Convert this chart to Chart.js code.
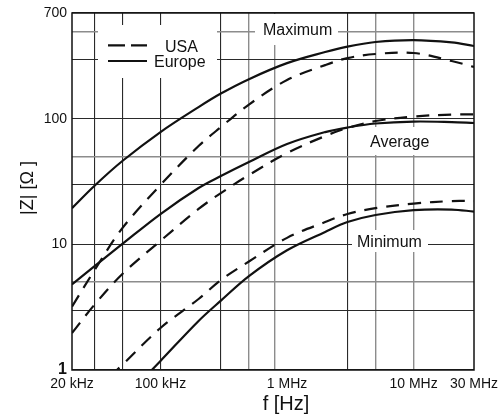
<!DOCTYPE html>
<html lang="en">
<head>
    <meta charset="UTF-8">
    <title>|Z| vs f</title>
    <script src="https://cdn.jsdelivr.net/npm/chart.js"></script>
    <style>
        body { margin: 0; background: #fff; }
        #wrap { width: 499px; height: 419px; }
    </style>
</head>
<body>
<div id="wrap"><canvas id="zChart"></canvas></div>
<script>
    // frequencies (Hz) the curves are read at
    const freqs = [2e4, 3e4, 5e4, 1e5, 2e5, 3e5, 5e5, 1e6, 2e6, 3e6, 5e6, 1e7, 2e7, 3e7];

    // impedance |Z| in ohm
    const europeMax = [19.5, 29.3, 46.3, 78.8, 124.6, 159.7, 208, 279, 342, 378, 411, 426, 408, 382];
    const usaMax = [3.2, 6.2, 13.5, 29.8, 60.9, 86.3, 130.5, 204.6, 269, 306, 330, 336, 290, 260];
    const europeAvg = [4.8, 6.7, 10.1, 17.5, 28.2, 35.1, 45.4, 63.2, 78.7, 85.6, 92.1, 95.5, 94.6, 93];
    const usaAvg = [1.97, 3.3, 5.82, 10.7, 19.2, 25.7, 35.8, 53.6, 73.2, 84.8, 96.4, 104.7, 108.6, 109];
    const europeMin = [null, null, 0.57, 1.18, 2.46, 3.57, 5.6, 9.0, 12.6, 15.1, 17.2, 18.8, 19, 18.3];
    const usaMin = [null, 0.67, 1.1, 2.16, 3.68, 5.21, 7.32, 11.3, 15.1, 17.5, 19.5, 21.2, 22.2, 22.2];

    // axis ticks
    const xTicks = [2e4, 3e4, 5e4, 1e5, 3e5, 5e5, 8e5, 1e6, 3e6, 5e6, 1e7, 3e7];
    const xTickLabels = ['20 kHz', '', '', '100 kHz', '', '', '', '1 MHz', '', '', '10 MHz', '30 MHz'];
    const yTicks = [1, 3, 5, 10, 30, 50, 100, 300, 500, 700];
    const yTickLabels = ['1', '', '', '10', '', '', '100', '', '', '700'];

    const DARK = '#2a2a2a', LIGHT = '#8c8c8c';
    const lightX = [5e5, 8e5, 5e6, 1e7];
    const noGridX = [2e4, 1e6, 3e7];
    const lightY = [5, 50, 500];
    const FONT = '"Liberation Sans", Arial, sans-serif';

    function pts(vals) {
        return freqs.map((f, i) => ({ x: f, y: vals[i] }));
    }

    function line(label, vals, dashed) {
        return {
            label: label,
            data: pts(vals),
            borderColor: '#111',
            borderWidth: 2.2,
            borderDash: dashed ? [13, 9] : [],
            pointRadius: 0,
            fill: false,
            tension: 0.35
        };
    }

    // white label boxes, legend, frame and axis titles
    const overlay = {
        id: 'overlay',
        beforeDatasetsDraw(chart) {
            const c = chart.ctx;
            c.save();
            c.fillStyle = '#fff';
            c.fillRect(98, 25, 119, 53);    // legend
            c.fillRect(255, 14, 83, 31);    // Maximum
            c.fillRect(365, 127, 75, 28);   // Average
            c.fillRect(352, 230, 76, 22);   // Minimum

            c.fillStyle = '#111';
            c.font = '16px ' + FONT;
            c.textBaseline = 'alphabetic';
            c.fillText('Maximum', 263, 34.5);
            c.fillText('Average', 370, 146.5);
            c.fillText('Minimum', 357, 246.5);
            c.fillText('USA', 165, 52.3);
            c.fillText('Europe', 154, 66.5);

            c.strokeStyle = '#111';
            c.lineWidth = 2.2;
            c.setLineDash([17, 6]);
            c.beginPath(); c.moveTo(108, 45.3); c.lineTo(147, 45.3); c.stroke();
            c.setLineDash([]);
            c.beginPath(); c.moveTo(108, 61); c.lineTo(147, 61); c.stroke();
            c.restore();
        },
        afterDraw(chart) {
            const c = chart.ctx, a = chart.chartArea;
            c.save();
            c.strokeStyle = '#111';
            c.lineWidth = 1.5;
            c.strokeRect(a.left, a.top, a.right - a.left, a.bottom - a.top);

            c.fillStyle = '#111';
            c.textAlign = 'center';
            c.textBaseline = 'middle';
            c.font = '20px ' + FONT;
            c.fillText('f [Hz]', 286, 404);
            c.translate(28, 188);
            c.rotate(-Math.PI / 2);
            c.font = '18px ' + FONT;
            c.fillText('|Z| [\u03A9 ]', 0, 0);
            c.restore();
        }
    };

    new Chart(document.getElementById('zChart'), {
        type: 'line',
        data: {
            datasets: [
                line('Europe Maximum', europeMax, false),
                line('USA Maximum', usaMax, true),
                line('Europe Average', europeAvg, false),
                line('USA Average', usaAvg, true),
                line('Europe Minimum', europeMin, false),
                line('USA Minimum', usaMin, true)
            ]
        },
        options: {
            responsive: true,
            maintainAspectRatio: false,
            animation: false,
            layout: { padding: { top: 13, right: 25, left: 0, bottom: 0 } },
            plugins: { legend: { display: false }, tooltip: { enabled: false } },
            scales: {
                x: {
                    type: 'logarithmic',
                    min: 2e4,
                    max: 3e7,
                    afterBuildTicks: s => { s.ticks = xTicks.map(v => ({ value: v })); },
                    afterFit: s => { s.height = 49; s.paddingLeft = 0; s.paddingRight = 0; },
                    border: { display: false },
                    grid: {
                        drawTicks: false,
                        color: ctx => {
                            const v = ctx.tick ? ctx.tick.value : 0;
                            if (noGridX.includes(v)) return 'rgba(0,0,0,0)';
                            return lightX.includes(v) ? LIGHT : DARK;
                        },
                        lineWidth: ctx => (ctx.tick && lightX.includes(ctx.tick.value)) ? 1.4 : 1.1
                    },
                    ticks: {
                        autoSkip: false,
                        maxRotation: 0,
                        padding: 6,
                        color: '#111',
                        font: { family: FONT, size: 14 },
                        callback: (val, i) => xTickLabels[i]
                    }
                },
                y: {
                    type: 'logarithmic',
                    min: 1,
                    max: 700,
                    afterBuildTicks: s => { s.ticks = yTicks.map(v => ({ value: v })); },
                    afterFit: s => { s.width = 72; s.paddingTop = 0; s.paddingBottom = 0; },
                    border: { display: false },
                    grid: {
                        drawTicks: false,
                        color: ctx => (ctx.tick && lightY.includes(ctx.tick.value)) ? LIGHT : DARK,
                        lineWidth: ctx => (ctx.tick && lightY.includes(ctx.tick.value)) ? 1.6 : 1.1
                    },
                    ticks: {
                        autoSkip: false,
                        padding: 5,
                        color: '#111',
                        font: ctx => (ctx.tick && ctx.tick.value === 1)
                            ? { family: FONT, size: 16, weight: 'bold' }
                            : { family: FONT, size: 14 },
                        callback: (val, i) => yTickLabels[i]
                    }
                }
            }
        },
        plugins: [overlay]
    });
</script>
</body>
</html>
